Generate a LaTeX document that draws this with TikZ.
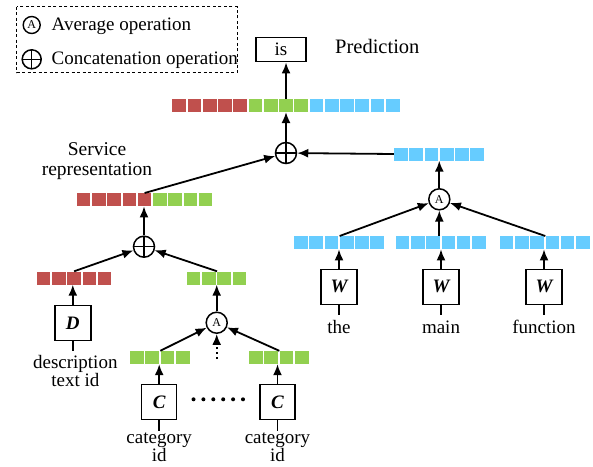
\documentclass[tikz,border=0pt]{standalone}
\usepackage{fontspec}
\setmainfont{Liberation Serif}
\usetikzlibrary{arrows.meta,calc}
\definecolor{vred}{RGB}{192,80,77}
\definecolor{vgreen}{RGB}{146,208,80}
\definecolor{vblue}{RGB}{102,204,255}
\tikzset{
  sq/.style={minimum width=13.7pt,minimum height=13pt,inner sep=0pt,draw=none},
  txt/.style={font=\fontsize{19}{20}\selectfont,inner sep=0pt},
  word/.style={font=\fontsize{19}{20}\selectfont,inner sep=0pt,anchor=base},
  twoline/.style={align=center,inner sep=0pt,anchor=base},
  wbox/.style={draw,line width=1.4pt,inner sep=0pt,minimum width=36pt,minimum height=35pt,font=\fontsize{19}{20}\selectfont\bfseries\itshape},
  arr/.style={line width=1.8pt,-{Latex[length=11pt,width=9pt]}},
  plain/.style={line width=1.8pt},
  concat/.style={circle,draw,line width=1.5pt,minimum size=21pt,inner sep=0pt,
    path picture={\draw[line width=1.2pt] (path picture bounding box.north) -- (path picture bounding box.south)
      (path picture bounding box.west) -- (path picture bounding box.east);}},
  avg/.style={circle,draw,line width=1.5pt,minimum size=21pt,inner sep=0pt,font=\fontsize{12}{12}\selectfont},
}
\newcommand\vecbar[4]{\foreach \c [count=\i] in {#4} {\node[sq,fill=\c] (#1-\i) at ({#2+(\i-1)*15.25+7.6},#3) {};}}
\begin{document}
\begin{tikzpicture}[x=1pt,y=-1pt]
\useasboundingbox (0,0) rectangle (593,466);
% legend
\draw[line width=1.2pt,dash pattern=on 3pt off 2.5pt] (16.7,6.7) rectangle (237.3,72.7);
\node[avg,minimum size=17pt,line width=1.4pt] (legA) at (31.7,25) {A};
\node[concat,minimum size=19pt] (legC) at (31.7,59.3) {};
\node[txt,anchor=base west] (legAt) at (51.5,30.7) {Average operation};
\node[txt,anchor=base west] (legCt) at (51.5,64.3) {Concatenation operation};
% prediction
\node[wbox,minimum width=50pt,minimum height=24.5pt,font=\fontsize{19}{20}\selectfont] (is) at (281,49.5) {is};
\node[txt,anchor=base west,font=\fontsize{20.5}{21}\selectfont] (pred) at (335,53.3) {Prediction};
\vecbar{top}{171.7}{105.3}{vred,vred,vred,vred,vred,vgreen,vgreen,vgreen,vgreen,vblue,vblue,vblue,vblue,vblue,vblue}
\node[concat] (cat1) at (286,153) {};
\draw[arr] (top-8.north) -- (top-8.north |- is.south);
\draw[arr] (cat1.north) -- (cat1.north |- top-8.south);
% right branch
\vecbar{rb}{393.3}{154}{vblue,vblue,vblue,vblue,vblue,vblue}
\draw[arr] (rb-1.west) -- (cat1);
\node[avg] (avgR) at (439.3,199.3) {A};
\draw[arr] (avgR.north) -- (avgR.north |- rb-4.south);
\vecbar{ba}{293.3}{242.7}{vblue,vblue,vblue,vblue,vblue,vblue}
\vecbar{bb}{395}{242.7}{vblue,vblue,vblue,vblue,vblue,vblue}
\vecbar{bc}{499}{242.7}{vblue,vblue,vblue,vblue,vblue,vblue}
\draw[arr] (ba-4.north west) -- (avgR);
\draw[arr] (avgR.south |- bb-4.north) -- (avgR.south);
\draw[arr] (bc-4.north west) -- (avgR);
\node[wbox] (w1) at (339,286.7) {W};
\node[wbox] (w2) at (441,286.7) {W};
\node[wbox] (w3) at (544,286.7) {W};
\draw[arr] (w1.north) -- (w1.north |- ba-4.south);
\draw[arr] (w2.north) -- (w2.north |- bb-4.south);
\draw[arr] (w3.north) -- (w3.north |- bc-4.south);
\node[word] (the) at (339,333.3) {the};
\node[word] (main) at (441,333.3) {main};
\node[word] (func) at (544,333.3) {function};
\coordinate (e1) at (339,315);
\coordinate (e2) at (441,315);
\coordinate (e3) at (544,315);
\draw[plain] (w1.south) -- (e1);
\draw[plain] (w2.south) -- (e2);
\draw[plain] (w3.south) -- (e3);
% left branch
\vecbar{svc}{76}{199.7}{vred,vred,vred,vred,vred,vgreen,vgreen,vgreen,vgreen}
\node[twoline,font=\fontsize{19.5}{19.5}\selectfont] (svc) at (97,175.2) {Service\\representation};
\draw[arr] (svc-5.north) -- (cat1);
\node[concat] (catL) at (144,246.7) {};
\draw[arr] (catL.north) -- (catL.north |- svc-5.south);
\vecbar{rl}{36}{278}{vred,vred,vred,vred,vred}
\vecbar{gl}{186}{278}{vgreen,vgreen,vgreen,vgreen}
\draw[arr] (rl-3.north) -- (catL);
\draw[arr] (gl-3.north west) -- (catL);
\node[wbox] (D) at (72.8,322.8) {D};
\draw[arr] (D.north) -- (D.north |- rl-3.south);
\node[twoline,font=\fontsize{19}{18.4}\selectfont] (desc) at (75.3,386.7) {description\\text id};
\coordinate (eD) at (72.8,350.7);
\draw[plain] (D.south) -- (eD);
\node[avg] (avgL) at (216.7,322.7) {A};
\draw[arr] (avgL.north) -- (avgL.north |- gl-3.south);
\vecbar{ga}{129.3}{357.5}{vgreen,vgreen,vgreen,vgreen}
\vecbar{gb}{248.3}{357.5}{vgreen,vgreen,vgreen,vgreen}
\draw[arr] (ga-3.north west) -- (avgL);
\draw[arr] (gb-3.north west) -- (avgL);
\coordinate (dots) at (216.7,359);
\draw[arr,dash pattern=on 2.5pt off 2.5pt] (dots) -- (avgL.south);
\node[wbox,minimum width=35pt] (c1) at (159.2,401.8) {C};
\node[wbox,minimum width=35pt] (c2) at (277.5,401.8) {C};
\draw[arr] (c1.north) -- (c1.north |- ga-3.south);
\draw[arr] (c2.north) -- (c2.north |- gb-3.south);
\foreach \k in {0,...,5} \fill (193.5+9.9*\k,399.3) circle (2pt);
\coordinate (ec1) at (159.2,430.7);
\coordinate (ec2) at (277.5,430.7);
\draw[plain] (c1.south) -- (ec1);
\draw[plain] (c2.south) -- (ec2);
\node[twoline,font=\fontsize{19}{16}\selectfont] (catA) at (159.2,461.5) {category\\id};
\node[twoline,font=\fontsize{19}{16}\selectfont] (catB) at (277.5,461.5) {category\\id};
\end{tikzpicture}
\end{document}
